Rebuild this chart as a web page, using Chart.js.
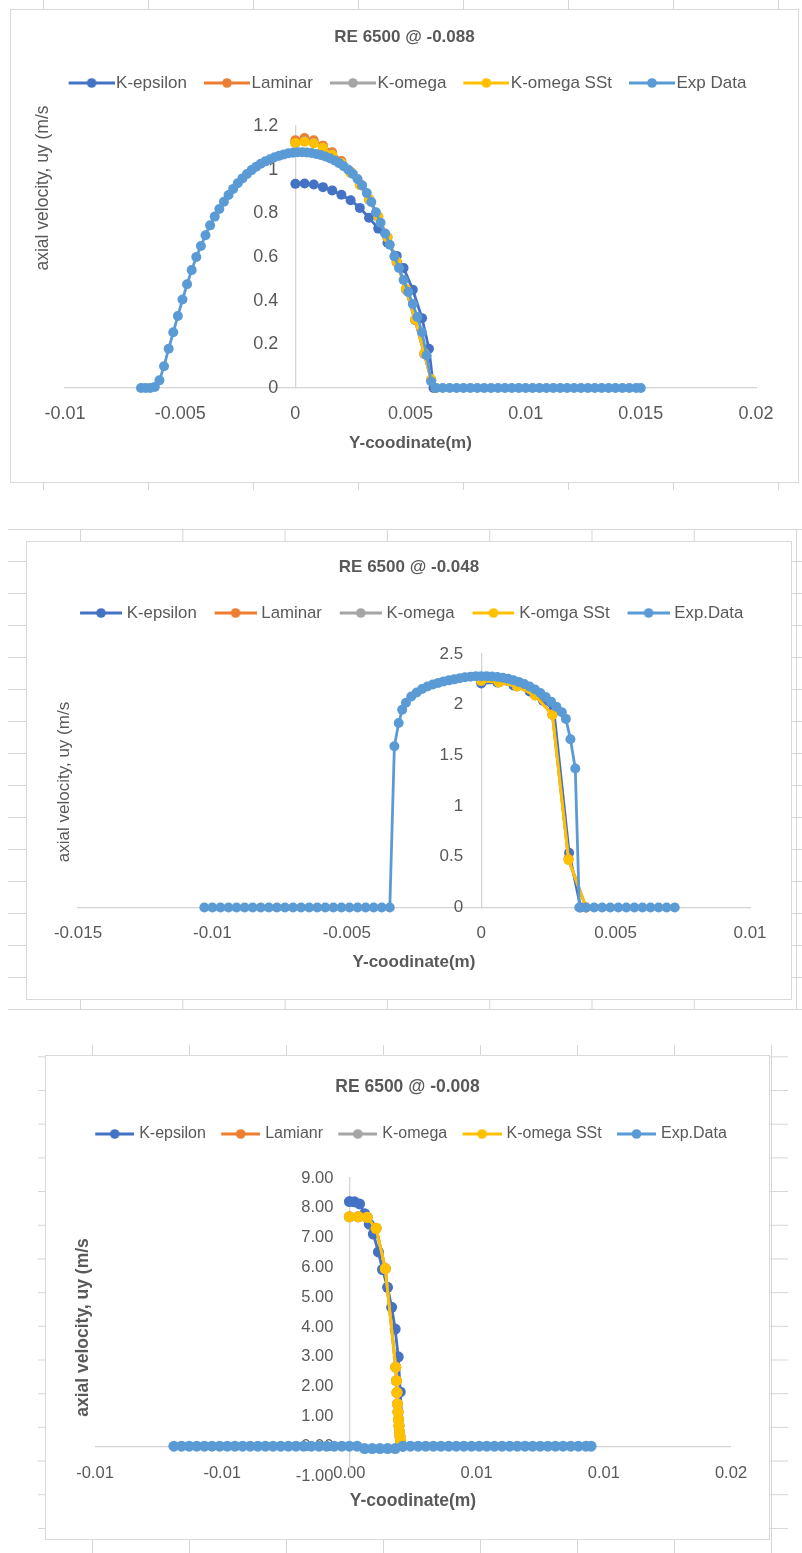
<!DOCTYPE html>
<html><head><meta charset="utf-8">
<script src="https://cdn.jsdelivr.net/npm/chart.js@4.4.1/dist/chart.umd.min.js"></script>
<style>
html,body{margin:0;padding:0;background:#fff;}
body{width:802px;height:1553px;position:relative;overflow:hidden;}
.grid{position:absolute;}
.box{position:absolute;background:#fff;border:1px solid #d9d9d9;box-sizing:border-box;}
.box canvas{position:absolute;left:-1px;top:-1px;}
#gA{left:0;top:0;width:802px;height:490px;background-image:linear-gradient(to right,#d6d6d6 1px,transparent 1px);background-size:105px 100%;background-position:43px 0;}
#gB{left:8px;top:529px;width:794px;height:481px;background-image:linear-gradient(to right,#d6d6d6 1px,transparent 1px),linear-gradient(to bottom,#d6d6d6 1px,transparent 1px);background-size:102.3px 100%,100% 32px;background-position:72px 0,0 0;}
#gC{left:38px;top:1045px;width:750px;height:508px;background-image:linear-gradient(to right,#d6d6d6 1px,transparent 1px),linear-gradient(to bottom,#d6d6d6 1px,transparent 1px);background-size:97px 100%,100% 33.7px;background-position:54px 0,0 45px;}
#bA{left:10px;top:9px;width:789px;height:474px;}
#bB{left:26px;top:541px;width:766px;height:459px;}
#bC{left:45px;top:1055px;width:725px;height:485px;}
</style></head><body>
<div class="grid" id="gA"></div>
<div class="grid" id="gB"></div>
<div class="grid" id="gC"></div>
<div class="box" id="bA"><canvas id="c1" width="789" height="474"></canvas></div>
<div class="box" id="bB"><canvas id="c2" width="766" height="459"></canvas></div>
<div class="box" id="bC"><canvas id="c3" width="725" height="485"></canvas></div>
<script>
// ---------------- DATA ----------------
// Chart 1: RE 6500 @ -0.088
const ch1Title = 'RE 6500 @ -0.088';
const ch1Series = ['K-epsilon', 'Laminar', 'K-omega', 'K-omega SSt', 'Exp Data'];
const ch1XTicks = ['-0.01', '-0.005', '0', '0.005', '0.01', '0.015', '0.02'];
const ch1YTicks = ['0', '0.2', '0.4', '0.6', '0.8', '1', '1.2'];
const ch1KepsX = [0, 0.0004, 0.0008, 0.0012, 0.0016, 0.002, 0.0024, 0.0028, 0.0032, 0.0036, 0.004, 0.0044, 0.0047, 0.0051, 0.0055, 0.0058, 0.006];
const ch1KepsY = [0.935, 0.937, 0.932, 0.92, 0.905, 0.885, 0.86, 0.825, 0.78, 0.73, 0.665, 0.605, 0.55, 0.45, 0.32, 0.18, 0];
const ch1SimX = [0, 0.0004, 0.0008, 0.0012, 0.0016, 0.002, 0.0024, 0.0028, 0.0032, 0.0036, 0.004, 0.0044, 0.0048, 0.0052, 0.0056, 0.0059, 0.0061];
const ch1LamY = [1.135, 1.145, 1.135, 1.11, 1.08, 1.04, 0.99, 0.935, 0.865, 0.785, 0.69, 0.575, 0.45, 0.31, 0.155, 0.035, 0];
const ch1KomY = [1.12, 1.13, 1.122, 1.1, 1.07, 1.032, 0.985, 0.93, 0.862, 0.783, 0.688, 0.577, 0.452, 0.312, 0.157, 0.038, 0];
const ch1SstY = [1.122, 1.128, 1.12, 1.1, 1.068, 1.03, 0.985, 0.93, 0.865, 0.785, 0.69, 0.58, 0.455, 0.315, 0.16, 0.04, 0];
const ch1ExpX = [-0.0067, -0.0065, -0.0063, -0.0061, -0.0059, -0.0057, -0.0055, -0.0053, -0.0051, -0.0049,
  -0.0047, -0.0045, -0.0043, -0.0041, -0.0039, -0.0037, -0.0035, -0.0033, -0.0031, -0.0029,
  -0.0027, -0.0025, -0.0023, -0.0021, -0.0019, -0.0017, -0.0015, -0.0013, -0.0011, -0.0009,
  -0.0007, -0.0005, -0.0003, -0.0001,
  0.0001, 0.0003, 0.0005, 0.0007, 0.0009, 0.0011, 0.0013, 0.0015, 0.0017, 0.0019,
  0.0021, 0.0023, 0.0025, 0.0027, 0.0029, 0.0031, 0.0033, 0.0035, 0.0037, 0.0039,
  0.0041, 0.0043, 0.0045, 0.0047, 0.0049, 0.0051, 0.0053, 0.0055, 0.0057, 0.0059, 0.0061,
  0.0064, 0.0067, 0.0070, 0.0073, 0.0076, 0.0079, 0.0082, 0.0085, 0.0088, 0.0091,
  0.0094, 0.0097, 0.0100, 0.0103, 0.0106, 0.0109, 0.0112, 0.0115, 0.0118, 0.0121,
  0.0124, 0.0127, 0.0130, 0.0133, 0.0136, 0.0139, 0.0142, 0.0145, 0.0148, 0.0150];
const ch1ExpY = [0, 0, 0, 0.005, 0.035, 0.10, 0.18, 0.255, 0.33, 0.405,
  0.475, 0.54, 0.60, 0.65, 0.70, 0.745, 0.785, 0.82, 0.853, 0.884,
  0.912, 0.938, 0.96, 0.98, 0.998, 1.013, 1.027, 1.038, 1.048, 1.057,
  1.064, 1.07, 1.075, 1.078,
  1.08, 1.08, 1.079, 1.076, 1.072, 1.067, 1.06, 1.052, 1.042, 1.03,
  1.016, 1.0, 0.98, 0.957, 0.928, 0.893, 0.852, 0.805, 0.757, 0.708,
  0.656, 0.603, 0.55, 0.495, 0.44, 0.385, 0.325, 0.255, 0.15, 0.03, 0,
  0, 0, 0, 0, 0, 0, 0, 0, 0, 0,
  0, 0, 0, 0, 0, 0, 0, 0, 0, 0,
  0, 0, 0, 0, 0, 0, 0, 0, 0, 0];

// Chart 2: RE 6500 @ -0.048
const ch2Title = 'RE 6500 @ -0.048';
const ch2Series = ['K-epsilon', 'Laminar', 'K-omega', 'K-omga SSt', 'Exp.Data'];
const ch2XTicks = ['-0.015', '-0.01', '-0.005', '0', '0.005', '0.01'];
const ch2YTicks = ['0', '0.5', '1', '1.5', '2', '2.5'];
const ch2KepsX = [0, 0.0006, 0.0012, 0.0018, 0.0023, 0.0027, 0.00327, 0.0037];
const ch2KepsY = [2.21, 2.22, 2.19, 2.13, 2.04, 1.95, 0.54, 0];
const ch2SimX = [0, 0.00066, 0.00133, 0.002, 0.00265, 0.00325, 0.0039];
const ch2LamY = [2.24, 2.225, 2.185, 2.095, 1.905, 0.48, 0];
const ch2KomY = [2.235, 2.22, 2.18, 2.09, 1.9, 0.47, 0];
const ch2SstY = [2.235, 2.22, 2.18, 2.09, 1.9, 0.47, 0];
const ch2ExpX = [-0.0103, -0.0100, -0.0097, -0.0094, -0.0091, -0.0088, -0.0085, -0.0082, -0.0079, -0.0076,
  -0.0073, -0.0070, -0.0067, -0.0064, -0.0061, -0.0058, -0.0055, -0.0052, -0.0049, -0.0046,
  -0.0043, -0.0040, -0.0037, -0.0034,
  -0.00323, -0.00307, -0.00294, -0.0028, -0.0026, -0.0024, -0.0022, -0.002, -0.0018, -0.0016,
  -0.0014, -0.0012, -0.001, -0.0008, -0.0006, -0.0004, -0.0002, 0, 0.0002, 0.0004,
  0.0006, 0.0008, 0.001, 0.0012, 0.0014, 0.0016, 0.0018, 0.002, 0.0022, 0.0024,
  0.0026, 0.0028, 0.003, 0.00315, 0.00332, 0.0035, 0.00365,
  0.0039, 0.0042, 0.0045, 0.0048, 0.0051, 0.0054, 0.0057, 0.006, 0.0063, 0.0066, 0.0069, 0.0072];
const ch2ExpY = [0, 0, 0, 0, 0, 0, 0, 0, 0, 0,
  0, 0, 0, 0, 0, 0, 0, 0, 0, 0,
  0, 0, 0, 0,
  1.59, 1.82, 1.95, 2.02, 2.08, 2.12, 2.155, 2.18, 2.2, 2.215,
  2.23, 2.24, 2.25, 2.26, 2.27, 2.275, 2.28, 2.28, 2.28, 2.278,
  2.273, 2.265, 2.255, 2.24, 2.225, 2.205, 2.18, 2.15, 2.115, 2.075,
  2.03, 1.98, 1.925, 1.86, 1.66, 1.37, 0,
  0, 0, 0, 0, 0, 0, 0, 0, 0, 0, 0, 0];

// Chart 3: RE 6500 @ -0.008
const ch3Title = 'RE 6500 @ -0.008';
const ch3Series = ['K-epsilon', 'Lamianr', 'K-omega', 'K-omega SSt', 'Exp.Data'];
const ch3XTicks = ['-0.01', '-0.01', '0.00', '0.01', '0.01', '0.02'];
const ch3YTicks = ['-1.00', '0.00', '1.00', '2.00', '3.00', '4.00', '5.00', '6.00', '7.00', '8.00', '9.00'];
const ch3KepsX = [0, 0.0002, 0.0004, 0.0006, 0.00078, 0.00094, 0.00114, 0.0013, 0.0015, 0.00166, 0.0018, 0.00192, 0.002, 0.0021];
const ch3KepsY = [8.21, 8.2, 8.13, 7.8, 7.45, 7.12, 6.52, 5.93, 5.33, 4.66, 3.93, 3.0, 1.82, 0];
const ch3SimX = [0, 0.00035, 0.0007, 0.00105, 0.00141, 0.00182, 0.00185, 0.00187, 0.00189, 0.00191, 0.00193, 0.00195, 0.00197, 0.00199, 0.00201];
const ch3LamY = [7.7, 7.7, 7.68, 7.31, 5.96, 2.65, 2.2, 1.8, 1.42, 1.15, 0.9, 0.68, 0.48, 0.32, 0.15];
const ch3KomY = [7.7, 7.7, 7.68, 7.31, 5.96, 2.65, 2.2, 1.8, 1.42, 1.15, 0.9, 0.68, 0.48, 0.32, 0.15];
const ch3SstY = [7.7, 7.7, 7.68, 7.31, 5.96, 2.65, 2.2, 1.8, 1.42, 1.15, 0.9, 0.68, 0.48, 0.32, 0.15];
const ch3ExpX = [-0.0069, -0.0066, -0.0063, -0.0060, -0.0057, -0.0054, -0.0051, -0.0048, -0.0045, -0.0042,
  -0.0039, -0.0036, -0.0033, -0.0030, -0.0027, -0.0024, -0.0021, -0.0018, -0.0015, -0.0012,
  -0.0009, -0.0006, -0.0003, 0, 0.0003, 0.0006, 0.0009, 0.0012, 0.0015, 0.0018,
  0.0021, 0.0024, 0.0027, 0.0030, 0.0033, 0.0036, 0.0039, 0.0042, 0.0045, 0.0048,
  0.0051, 0.0054, 0.0057, 0.0060, 0.0063, 0.0066, 0.0069, 0.0072, 0.0075, 0.0078,
  0.0081, 0.0084, 0.0087, 0.0090, 0.0093, 0.0095];
const ch3ExpY = [0, 0, 0, 0, 0, 0, 0, 0, 0, 0,
  0, 0, 0, 0, 0, 0, 0, 0, 0, 0,
  0, 0, 0, 0, 0, -0.08, -0.08, -0.08, -0.08, -0.08,
  0, 0, 0, 0, 0, 0, 0, 0, 0, 0,
  0, 0, 0, 0, 0, 0, 0, 0, 0, 0,
  0, 0, 0, 0, 0, 0];

// ---------------- RENDERING ----------------
const FONT = "'Liberation Sans', Arial, sans-serif";
const TXT = '#595959';
const AXC = '#d4d4d4';
const COLORS = ['#4472C4', '#ED7D31', '#A5A5A5', '#FFC000', '#5B9BD5'];

const yTitlePlugin = {
  id: 'yTitleText',
  afterDraw(chart, args, o) {
    if (!o || !o.text) return;
    const c = chart.ctx;
    c.save();
    c.font = o.font;
    c.fillStyle = o.color;
    c.textAlign = 'center';
    c.textBaseline = 'middle';
    c.translate(o.x, o.y);
    c.rotate(-Math.PI / 2);
    c.fillText(o.text, 0, 0);
    c.restore();
  }
};

// value axis sits at x = 0: push its labels away from the axis line;
// category labels may sit above the bottom axis box (Excel "next to axis"), so do not clip them
const axisFix = {
  id: 'axisFix',
  beforeDraw(chart, args, o) {
    const sx = chart.scales.x;
    if (sx) { sx._computeLabelArea = function () { return undefined; }; }
    const s = chart.scales.y;
    if (!s || !o || !o.pad) return;
    const items = s.getLabelItems(chart.chartArea);
    if (!items || items._shifted) return;
    items.forEach(it => { it.options.translation[0] -= o.pad; });
    items._shifted = true;
  }
};

function pts(xs, ys) { return xs.map((x, i) => ({ x: x, y: ys[i] })); }

function legendImg(color, I, a, L) {
  const c = document.createElement('canvas');
  c.width = I; c.height = 12;
  const g = c.getContext('2d');
  g.strokeStyle = color; g.lineWidth = 3;
  g.beginPath(); g.moveTo(a, 6); g.lineTo(a + L, 6); g.stroke();
  g.fillStyle = color;
  g.beginPath(); g.arc(a + L / 2, 6, 4.8, 0, Math.PI * 2); g.fill();
  return c;
}

function tickFrom(labels, min, step) {
  return function (v) {
    const i = Math.round((v - min) / step);
    return labels[i] !== undefined ? labels[i] : '';
  };
}

function makeChart(id, p) {
  const series = [
    [p.names[0], p.kX, p.kY],
    [p.names[1], p.sX, p.lY],
    [p.names[2], p.sX, p.oY],
    [p.names[3], p.sX, p.tY],
    [p.names[4], p.eX, p.eY]
  ];
  const datasets = series.map((s, i) => ({
    label: s[0],
    data: pts(s[1], s[2]),
    showLine: true,
    borderColor: COLORS[i],
    backgroundColor: COLORS[i],
    pointBackgroundColor: COLORS[i],
    pointBorderColor: COLORS[i],
    borderWidth: 2.8,
    pointRadius: p.r,
    pointHoverRadius: p.r,
    pointBorderWidth: 0,
    tension: 0,
    clip: false,
    order: 5 - i
  }));
  const imgs = COLORS.map(c => legendImg(c, p.lg.I, p.lg.a, p.lg.L));
  new Chart(document.getElementById(id), {
    type: 'scatter',
    data: { datasets: datasets },
    plugins: [yTitlePlugin, axisFix],
    options: {
      responsive: false,
      animation: false,
      devicePixelRatio: 1,
      events: [],
      layout: { padding: 0 },
      plugins: {
        title: {
          display: true, text: p.title, color: TXT,
          font: { family: FONT, size: p.titleSize, weight: 'bold', lineHeight: 1.2 },
          padding: { top: p.tpt, bottom: p.tpb }
        },
        subtitle: {
          display: true, text: ' ', weight: 500,
          font: { family: FONT, size: 1, lineHeight: 1 },
          padding: { top: p.spacer - 1, bottom: 0 }
        },
        legend: {
          display: true, position: 'top',
          labels: {
            usePointStyle: true,
            pointStyleWidth: p.lg.W,
            padding: p.lg.P,
            color: TXT,
            font: { family: FONT, size: p.lg.fs },
            sort: (a, b) => a.datasetIndex - b.datasetIndex,
            generateLabels: (chart) => Chart.defaults.plugins.legend.labels.generateLabels(chart)
              .map(l => Object.assign(l, { pointStyle: imgs[l.datasetIndex] }))
          }
        },
        tooltip: { enabled: false },
        yTitleText: { text: 'axial velocity, uy (m/s', x: p.yt.x, y: p.yt.y, font: p.yt.font, color: TXT },
        axisFix: { pad: p.y.pad }
      },
      scales: {
        x: {
          type: 'linear', position: 'bottom', min: p.x.min, max: p.x.max,
          ticks: {
            stepSize: p.x.step, autoSkip: false, maxRotation: 0, minRotation: 0,
            padding: p.x.pad, color: TXT, font: { family: FONT, size: p.x.fs },
            callback: tickFrom(p.x.labels, p.x.min, p.x.step)
          },
          grid: { display: true, color: 'transparent', drawTicks: false },
          border: { display: p.x.border, color: AXC, width: 1.3 },
          title: {
            display: true, text: 'Y-coodinate(m)', color: TXT,
            font: { family: FONT, size: p.x.tfs, weight: 'bold', lineHeight: 1.2 },
            padding: { top: p.x.tpt, bottom: p.x.tpb }
          }
        },
        y: {
          type: 'linear', position: { x: 0 }, min: p.y.min, max: p.y.max,
          ticks: {
            stepSize: p.y.step, autoSkip: false, padding: 0, color: TXT,
            font: { family: FONT, size: p.y.fs },
            callback: tickFrom(p.y.labels, p.y.min, p.y.step)
          },
          grid: {
            display: true, drawTicks: false, lineWidth: 1.3,
            color: (c) => (p.y.zeroLine && c.tick && Math.abs(c.tick.value) < 1e-9) ? AXC : 'transparent'
          },
          border: { display: true, color: AXC, width: 1.3 }
        },
        padL: {
          type: 'linear', position: 'left', display: true,
          ticks: { display: false }, grid: { display: false, drawTicks: false }, border: { display: false },
          afterFit: (s) => { s.width = p.padL; }
        },
        padR: {
          type: 'linear', position: 'right', display: true,
          ticks: { display: false }, grid: { display: false, drawTicks: false }, border: { display: false },
          afterFit: (s) => { s.width = p.padR; }
        }
      }
    }
  });
}

makeChart('c1', {
  title: ch1Title, titleSize: 17, tpt: 17.8, tpb: 16.3, spacer: 24.5,
  names: ch1Series, kX: ch1KepsX, kY: ch1KepsY, sX: ch1SimX, lY: ch1LamY, oY: ch1KomY, tY: ch1SstY, eX: ch1ExpX, eY: ch1ExpY,
  r: 5,
  lg: { W: 45, P: 11, fs: 17, I: 59, a: 13, L: 46 },
  yt: { x: 33, y: 179, font: "17.5px " + FONT },
  x: { min: -0.01, max: 0.02, step: 0.005, labels: ch1XTicks, pad: 15.2, fs: 18, tfs: 17, tpt: -7.2, tpb: 29.8, border: true },
  y: { min: 0, max: 1.2, step: 0.2, labels: ch1YTicks, pad: 17, fs: 18, zeroLine: false },
  padL: 55, padR: 43
});

makeChart('c2', {
  title: ch2Title, titleSize: 17, tpt: 15.8, tpb: 14.9, spacer: 22.6,
  names: ch2Series, kX: ch2KepsX, kY: ch2KepsY, sX: ch2SimX, lY: ch2LamY, oY: ch2KomY, tY: ch2SstY, eX: ch2ExpX, eY: ch2ExpY,
  r: 5,
  lg: { W: 43.7, P: 12.5, fs: 16.8, I: 51, a: 9, L: 42 },
  yt: { x: 38, y: 241, font: "17px " + FONT },
  x: { min: -0.015, max: 0.01, step: 0.005, labels: ch2XTicks, pad: 15.3, fs: 17, tfs: 17, tpt: -6.7, tpb: 27.8, border: true },
  y: { min: 0, max: 2.5, step: 0.5, labels: ch2YTicks, pad: 18, fs: 17, zeroLine: false },
  padL: 52, padR: 42
});

makeChart('c3', {
  title: ch3Title, titleSize: 17.5, tpt: 21.5, tpb: 20.2, spacer: 26,
  names: ch3Series, kX: ch3KepsX, kY: ch3KepsY, sX: ch3SimX, lY: ch3LamY, oY: ch3KomY, tY: ch3SstY, eX: ch3ExpX, eY: ch3ExpY,
  r: 5.5,
  lg: { W: 43, P: 8.3, fs: 16, I: 49, a: 10, L: 39 },
  yt: { x: 38, y: 272.5, font: "bold 17.5px " + FONT },
  x: { min: -0.01, max: 0.015, step: 0.005, labels: ch3XTicks, pad: -12.9, fs: 16.5, tfs: 17.5, tpt: 20.5, tpb: 28.5, border: false },
  y: { min: -1, max: 9, step: 1, labels: ch3YTicks, pad: 16, fs: 16.5, zeroLine: true },
  padL: 50, padR: 39
});
</script>
</body></html>
